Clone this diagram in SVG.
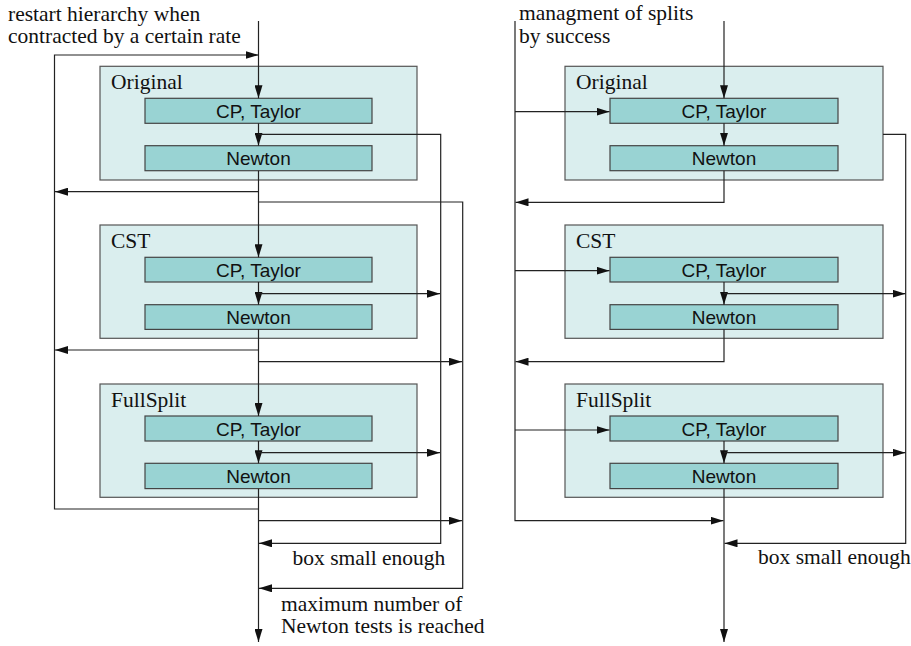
<svg xmlns="http://www.w3.org/2000/svg" width="911" height="646" viewBox="0 0 911 646">
<style>
.outer{fill:#daeeee;stroke:#555;stroke-width:1.2}
.inner{fill:#99d3d3;stroke:#444;stroke-width:1.2}
.lbl{font-family:"Liberation Serif",serif;font-size:21.5px;fill:#111}
.box{font-family:"Liberation Sans",sans-serif;font-size:19px;fill:#111;text-anchor:middle}
.c path{fill:none;stroke:#222;stroke-width:1.2}
.c path.a{marker-end:url(#ah)}
</style>
<defs>
<marker id="ah" markerWidth="13" markerHeight="8" refX="13" refY="4" orient="auto" markerUnits="userSpaceOnUse"><path d="M0,0 L13,4 L0,8 z" fill="#111"/></marker>
</defs>
<rect width="911" height="646" fill="#fff"/>
<g id="texts-left">
<text class="lbl" x="8" y="20.5">restart hierarchy when</text>
<text class="lbl" x="8" y="43">contracted by a certain rate</text>
<text class="lbl" x="292.5" y="565">box small enough</text>
<text class="lbl" x="281" y="610.5">maximum number of</text>
<text class="lbl" x="281" y="632.5">Newton tests is reached</text>
</g>
<g id="texts-right">
<text class="lbl" x="519" y="20">managment of splits</text>
<text class="lbl" x="519" y="43">by success</text>
<text class="lbl" x="758" y="564">box small enough</text>
</g>
<g id="L-original">
<rect class="outer" x="100" y="66.3" width="317" height="113.7"/>
<text class="lbl" x="111" y="89.3">Original</text>
<rect class="inner" x="145" y="98.3" width="227" height="25"/>
<text class="box" x="258.5" y="117.8">CP, Taylor</text>
<rect class="inner" x="145" y="145.7" width="227" height="25"/>
<text class="box" x="258.5" y="165.2">Newton</text>
</g>
<g id="L-cst">
<rect class="outer" x="100" y="225" width="317" height="113.3"/>
<text class="lbl" x="111" y="247.7">CST</text>
<rect class="inner" x="145" y="257.3" width="227" height="24.7"/>
<text class="box" x="258.5" y="276.6">CP, Taylor</text>
<rect class="inner" x="145" y="304.7" width="227" height="24.7"/>
<text class="box" x="258.5" y="324">Newton</text>
</g>
<g id="L-fullsplit">
<rect class="outer" x="100" y="384" width="317" height="113.3"/>
<text class="lbl" x="111" y="406.7">FullSplit</text>
<rect class="inner" x="145" y="416" width="227" height="25"/>
<text class="box" x="258.5" y="435.5">CP, Taylor</text>
<rect class="inner" x="145" y="463.3" width="227" height="25.3"/>
<text class="box" x="258.5" y="483">Newton</text>
</g>
<g id="R-original">
<rect class="outer" x="565" y="66.3" width="318" height="113.7"/>
<text class="lbl" x="576" y="89.3">Original</text>
<rect class="inner" x="610" y="98.3" width="228" height="25"/>
<text class="box" x="724" y="117.8">CP, Taylor</text>
<rect class="inner" x="610" y="145.7" width="228" height="25"/>
<text class="box" x="724" y="165.2">Newton</text>
</g>
<g id="R-cst">
<rect class="outer" x="565" y="225" width="318" height="113.3"/>
<text class="lbl" x="576" y="247.7">CST</text>
<rect class="inner" x="610" y="257.3" width="228" height="24.7"/>
<text class="box" x="724" y="276.6">CP, Taylor</text>
<rect class="inner" x="610" y="304.7" width="228" height="24.7"/>
<text class="box" x="724" y="324">Newton</text>
</g>
<g id="R-fullsplit">
<rect class="outer" x="565" y="384" width="318" height="113.3"/>
<text class="lbl" x="576" y="406.7">FullSplit</text>
<rect class="inner" x="610" y="416" width="228" height="25"/>
<text class="box" x="724" y="435.5">CP, Taylor</text>
<rect class="inner" x="610" y="463.3" width="228" height="25.3"/>
<text class="box" x="724" y="483">Newton</text>
</g>
<g id="connectors" class="c">
<path class="a" d="M258.5,21 V98.3"/>
<path class="a" d="M258.5,509 H54.5 V55 H258.5"/>
<path class="a" d="M258.5,123.3 V145.7"/>
<path class="a" d="M258.5,134.3 H440.7 V543.3 H259"/>
<path class="a" d="M258.5,170.7 V257.3"/>
<path class="a" d="M258.5,191.7 H55"/>
<path class="a" d="M258.5,202 H462.7 V588.3 H259"/>
<path class="a" d="M258.5,282 V304.7"/>
<path class="a" d="M258.5,293.7 H440"/>
<path class="a" d="M258.5,329.3 V416"/>
<path class="a" d="M258.5,350 H55"/>
<path class="a" d="M258.5,361.7 H462"/>
<path class="a" d="M258.5,441 V463.3"/>
<path class="a" d="M258.5,452.7 H440"/>
<path class="a" d="M258.5,488.7 V642"/>
<path class="a" d="M258.5,520.7 H462"/>
<path class="a" d="M724,21 V98.3"/>
<path class="a" d="M515,21 V520.7 H723.5"/>
<path class="a" d="M515,111.7 H609.5"/>
<path class="a" d="M724,123.3 V145.7"/>
<path class="a" d="M724,170.7 V202.3 H515.5"/>
<path class="a" d="M883,134.3 H905.7 V543.3 H724.5"/>
<path class="a" d="M515,270.7 H609.5"/>
<path class="a" d="M724,282 V304.7"/>
<path class="a" d="M724,293.7 H905.5"/>
<path class="a" d="M724,329.3 V361.7 H515.5"/>
<path class="a" d="M515,430 H609.5"/>
<path class="a" d="M724,441 V463.3"/>
<path class="a" d="M724,452.7 H905.5"/>
<path class="a" d="M724,488.7 V642"/>
</g>
</svg>
